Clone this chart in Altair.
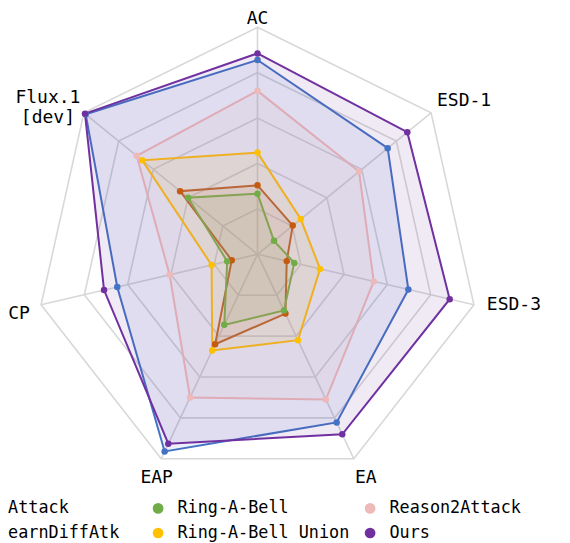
import math
import altair as alt
import pandas as pd

# ---------------- data ----------------
axes = ["AC", "ESD-1", "ESD-3", "EA", "EAP", "CP", "Flux.1 [dev]"]
axis_labels = ["AC", "ESD-1", "ESD-3", "EA", "EAP", "CP", "Flux.1\n[dev]"]

series = ["QF-Attack", "UnlearnDiffAtk", "Ring-A-Bell",
          "Ring-A-Bell Union", "Reason2Attack", "Ours"]
qf_attack = [30.4, 20.3, 13.5, 29.0, 44.0, 11.9, 44.6]
unlearn_diff = [85.6, 75.0, 69.7, 82.2, 96.4, 64.8, 99.0]
ring_a_bell = [26.7, 9.5, 17.0, 27.5, 34.5, 14.0, 40.0]
ring_a_bell_union = [44.8, 24.9, 28.9, 42.0, 47.0, 21.2, 66.4]
reason2attack = [72.0, 58.5, 53.7, 71.0, 70.0, 40.6, 69.6]
ours = [88.5, 86.3, 88.8, 88.0, 92.6, 70.9, 99.4]
series_values = [qf_attack, unlearn_diff, ring_a_bell,
                 ring_a_bell_union, reason2attack, ours]

colors = {
    "QF-Attack": "#C55A11",
    "UnlearnDiffAtk": "#4472C4",
    "Ring-A-Bell": "#70AD47",
    "Ring-A-Bell Union": "#FFC000",
    "Reason2Attack": "#EDB9B9",
    "Ours": "#7030A0",
}
# legend: first column (QF-Attack, UnlearnDiffAtk) and the two other columns
legend_col1 = series[:2]
legend_rest = series[2:]

grid_levels = [20, 40, 60, 80, 100]
R_MAX = 100

# ---------------- layout ----------------
W, H = 554, 535
CX, CY = 249.5, 246.3     # centre of the web in px
RX, RY = 222.0, 227.0     # px per unit radius
X_MIN, X_MAX = -CX / RX, (W - CX) / RX
Y_MIN, Y_MAX = -(H - CY) / RY, CY / RY
lab_dx = [0, 33, 40, 12, -4.5, -22, -36]
lab_dy = [-8.5, -12, 0, 19, 19, 9, -15]

n = len(axes)

rows = []
for s, vals in zip(series, series_values):
    for i, v in enumerate(vals):
        rows.append({"series": s, "axis": axes[i], "idx": i, "r": v})
df = pd.DataFrame(rows)

ring_df = pd.DataFrame([{"level": lv, "idx": i, "r": lv}
                        for lv in grid_levels for i in range(n)])
spoke_df = pd.DataFrame([{"idx": i, "r": R_MAX} for i in range(n)])
label_df = pd.DataFrame([
    {"label": axis_labels[i], "idx": i, "r": R_MAX,
     "ox": lab_dx[i] / RX, "oy": -lab_dy[i] / RY} for i in range(n)])

calc_x = f"datum.r / {R_MAX} * sin(2 * PI * datum.idx / {n})"
calc_y = f"datum.r / {R_MAX} * cos(2 * PI * datum.idx / {n})"

xs = alt.Scale(domain=[X_MIN, X_MAX], nice=False, zero=False)
ys = alt.Scale(domain=[Y_MIN, Y_MAX], nice=False, zero=False)
pscale = alt.Scale(domain=series, range=[colors[s] for s in series])
scale_col1 = alt.Scale(domain=legend_col1, range=[colors[s] for s in legend_col1])
scale_rest = alt.Scale(domain=legend_rest, range=[colors[s] for s in legend_rest])

X = alt.X("x:Q", scale=xs, axis=None)
Y = alt.Y("y:Q", scale=ys, axis=None)

grid_color = "#d8d8d8"

legend_style = dict(
    title=None, symbolType="circle", symbolSize=115,
    symbolStrokeWidth=0, symbolOpacity=1,
    labelFont="DejaVu Sans Mono", labelFontSize=16.8,
    labelColor="black", labelOffset=11, labelLimit=400,
    rowPadding=7, padding=0, orient="none", legendY=491.6,
)

rings = alt.Chart(ring_df).transform_calculate(x=calc_x, y=calc_y).mark_line(
    interpolate="linear-closed", stroke=grid_color, strokeWidth=1.6
).encode(x=X, y=Y, detail="level:N", order="idx:Q")

spokes = alt.Chart(spoke_df).transform_calculate(
    x=calc_x, y=calc_y, x0="0", y0="0"
).mark_rule(stroke=grid_color, strokeWidth=1.6).encode(
    x=alt.X("x0:Q", scale=xs, axis=None), y=alt.Y("y0:Q", scale=ys, axis=None),
    x2="x:Q", y2="y:Q")

polys = alt.Chart(df).transform_calculate(
    x=calc_x, y=calc_y, grp="datum.series"
).mark_line(
    interpolate="linear-closed", strokeWidth=2, fillOpacity=0.1
).encode(
    x=X, y=Y,
    stroke=alt.Stroke("grp:N", scale=pscale, legend=None),
    fill=alt.Fill("grp:N", scale=pscale, legend=None),
    order="idx:Q",
)

points_col1 = alt.Chart(df).transform_filter(
    alt.FieldOneOfPredicate(field="series", oneOf=legend_col1)
).transform_calculate(x=calc_x, y=calc_y).mark_circle(
    size=42, opacity=1
).encode(
    x=X, y=Y,
    fill=alt.Fill("series:N", scale=scale_col1,
                  legend=alt.Legend(columns=1, legendX=-58, **legend_style)),
)

points_rest = alt.Chart(df).transform_filter(
    alt.FieldOneOfPredicate(field="series", oneOf=legend_rest)
).transform_calculate(x=calc_x, y=calc_y).mark_circle(
    size=42, opacity=1
).encode(
    x=X, y=Y,
    color=alt.Color("series:N", scale=scale_rest,
                    legend=alt.Legend(columns=2, legendX=141.7,
                                      columnPadding=12, **legend_style)),
)

labels = alt.Chart(label_df).transform_calculate(
    x=calc_x + " + datum.ox", y=calc_y + " + datum.oy"
).mark_text(
    font="DejaVu Sans Mono", fontSize=18, color="black",
    align="center", baseline="middle", lineBreak="\n", lineHeight=20
).encode(x=X, y=Y, text="label:N")

chart = alt.layer(
    rings, spokes, polys, points_col1, points_rest, labels
).resolve_scale(fill="independent").properties(
    width=W, height=H, padding=0,
    autosize=alt.AutoSizeParams(type="none"),
).configure_view(strokeWidth=0)

chart.save("out.html", embed_options={"renderer": "svg", "actions": False})
